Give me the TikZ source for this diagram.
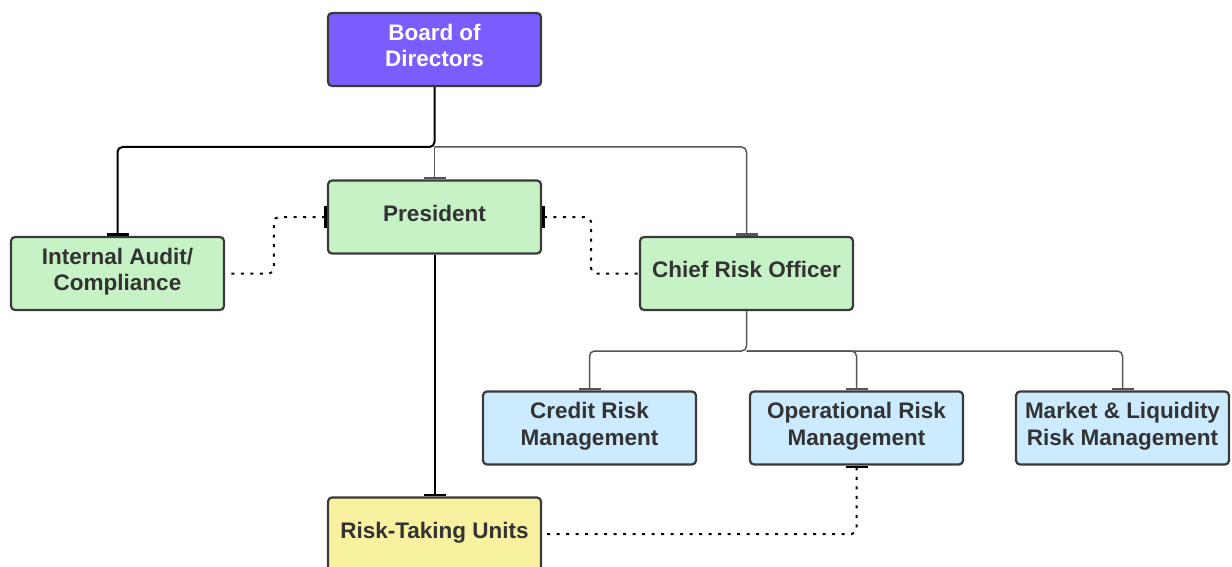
\documentclass[tikz,border=0pt]{standalone}
\usepackage{fontspec}
\setmainfont{Liberation Sans}
\usetikzlibrary{arrows.meta}
\definecolor{boardfill}{RGB}{122,92,255}
\definecolor{officefill}{RGB}{199,242,198}
\definecolor{riskfill}{RGB}{204,235,255}
\definecolor{unitfill}{RGB}{247,241,160}
\definecolor{boxline}{RGB}{58,58,58}
\definecolor{boxtext}{RGB}{51,51,51}
\definecolor{thinline}{RGB}{85,85,85}
\begin{document}
\begin{tikzpicture}[x=1pt,y=-1pt,
  box/.style={draw=boxline, line width=2.2pt, rounded corners=4pt,
    minimum width=213pt, minimum height=73pt, align=center, text depth=8pt,
    font=\fontsize{22.5}{26.5}\selectfont\bfseries, text=boxtext},
  strongline/.style={draw=black, line width=2pt, rounded corners=5pt, -{Bar[width=22pt,line width=2.5pt]}},
  weakline/.style={draw=thinline, line width=1.5pt, rounded corners=5pt, -{Bar[width=22pt,line width=2.5pt]}},
  dotline/.style={draw=black, line width=2pt, rounded corners=5pt, dash pattern=on 3pt off 6.5pt,
    {Bar[width=22pt,line width=2.5pt]}-}]
\useasboundingbox (0,0) rectangle (1232,567);
% the boxes
\node[box, fill=boardfill, text=white] (board) at (434.5,49.5) {Board of\\Directors};
\node[box, fill=officefill] (president) at (434.5,217) {President};
\node[box, fill=officefill] (audit) at (117.5,273.5) {Internal Audit/\\Compliance};
\node[box, fill=officefill] (cro) at (746.5,273.5) {Chief Risk Officer};
%     risk management row
\node[box, fill=riskfill] (credit) at (589.5,428) {Credit Risk\\Management};
\node[box, fill=riskfill] (oper) at (856.5,428) {Operational Risk\\Management};
\node[box, fill=riskfill] (market) at (1122.5,428) {Market \& Liquidity\\Risk Management};
\node[box, fill=unitfill] (units) at (434.5,534) {Risk-Taking Units};
% the forks
\coordinate (topfork) at (434.5,147);
\coordinate (crofork) at (746.5,351);
% solid lines
\draw[strongline] (board.south) -- (topfork) -| (audit.north);
\draw[weakline] (topfork) -- (president.north);
\draw[weakline] (topfork) -| (cro.north);
\draw[strongline] (president.south) -- (units.north);
\draw[weakline] (cro.south) -- (crofork) -| (credit.north);
\draw[weakline] (crofork) -| (oper.north);
\draw[weakline] (crofork) -| (market.north);
% dotted lines
\draw[dotline] (president.west) -- ++(-53,0) |- (audit.east);
\draw[dotline] (president.east) -- ++(49,0) |- (cro.west);
\draw[dotline] (oper.south) |- (units.east);
\end{tikzpicture}
\end{document}
